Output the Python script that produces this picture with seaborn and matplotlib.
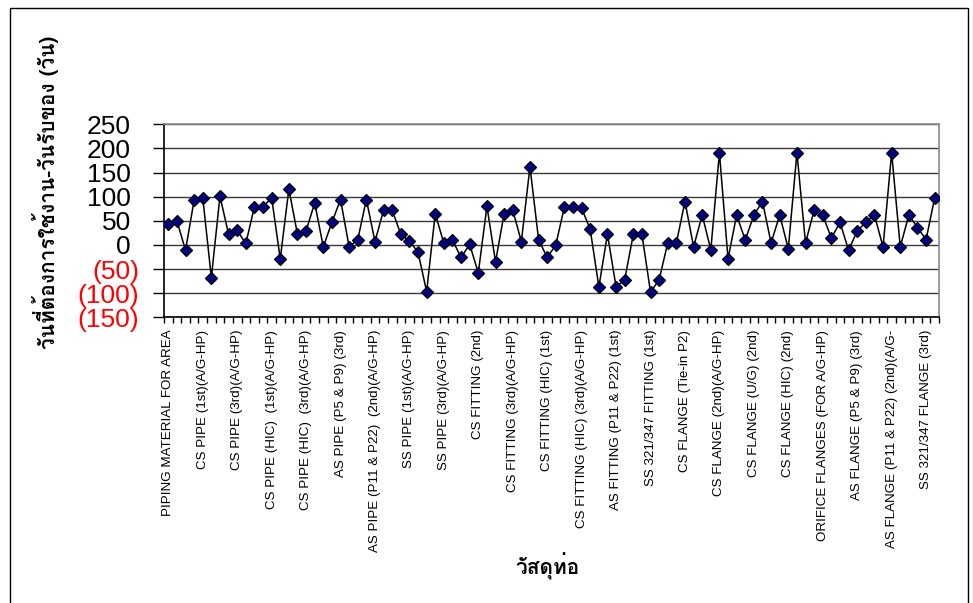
import numpy as np
import pandas as pd
import matplotlib
matplotlib.use("Agg")
import matplotlib.pyplot as plt
import matplotlib.patches as patches
import matplotlib.transforms as mtransforms
from matplotlib import font_manager as fm
from matplotlib.ft2font import FT2Font
from matplotlib.ticker import FuncFormatter
import seaborn as sns

# Days between required-use date and receipt date, one value per material line
values = [43, 50, -11, 93, 98, -68, 101, 22, 30, 3,
          79, 79, 98, -29, 116, 22, 29, 87, -4, 47,
          94, -4, 11, 94, 7, 72, 72, 22, 8, -15,
          -97, 65, 3, 10, -26, 1, -58, 80, -35, 65,
          72, 7, 162, 11, -26, 0, 79, 79, 76, 32,
          -87, 22, -87, -72, 22, 22, -98, -72, 4, 4,
          90, -4, 62, -10, 191, -29, 62, 10, 62, 90,
          4, 62, -8, 191, 4, 72, 62, 14, 47, -11,
          29, 47, 62, -4, 191, -4, 62, 36, 11, 98]

# Category names shown on the axis (every fourth line)
shown_labels = [
    "PIPING MATERIAL FOR AREA",
    "CS PIPE (1st)(A/G-HP)",
    "CS PIPE (3rd)(A/G-HP)",
    "CS PIPE (HIC)  (1st)(A/G-HP)",
    "CS PIPE (HIC)  (3rd)(A/G-HP)",
    "AS PIPE (P5 & P9) (3rd)",
    "AS PIPE (P11 & P22)  (2nd)(A/G-HP)",
    "SS PIPE (1st)(A/G-HP)",
    "SS PIPE (3rd)(A/G-HP)",
    "CS FITTING (2nd)",
    "CS FITTING (3rd)(A/G-HP)",
    "CS FITTING (HIC) (1st)",
    "CS FITTING (HIC) (3rd)(A/G-HP)",
    "AS FITTING (P11 & P22) (1st)",
    "SS 321/347 FITTING (1st)",
    "CS FLANGE (Tie-in P2)",
    "CS FLANGE (2nd)(A/G-HP)",
    "CS FLANGE (U/G) (2nd)",
    "CS FLANGE (HIC) (2nd)",
    "ORIFICE FLANGES (FOR A/G-HP)",
    "AS FLANGE (P5 & P9) (3rd)",
    "AS FLANGE (P11 & P22) (2nd)(A/G-",
    "SS 321/347 FLANGE (3rd)",
]
label_step = 4

y_ticks = [-150, -100, -50, 0, 50, 100, 150, 200, 250]

y_title = "วันที่ต้องการใช้งาน-วันรับของ (วัน)"
x_title = "วัสดุท่อ"


def thai_font(bold=True):
    """Pick an installed font that has Thai glyphs, preferring a bold face."""
    found = []
    for f in fm.fontManager.ttflist:
        try:
            cmap = FT2Font(f.fname).get_charmap()
        except Exception:
            continue
        if 0x0E27 in cmap and 0x0E31 in cmap:
            w = f.weight if isinstance(f.weight, int) else (700 if "bold" in str(f.weight).lower() else 400)
            found.append((w, f.fname))
    if not found:
        return fm.FontProperties(family="DejaVu Sans", weight="bold")
    target = 700 if bold else 400
    found.sort(key=lambda t: abs(t[0] - target))
    return fm.FontProperties(fname=found[0][1])


sns.set_theme(style="white")
plt.rcParams["font.family"] = ["Liberation Sans", "DejaVu Sans"]

df = pd.DataFrame({"idx": np.arange(len(values)), "days": values})

fig = plt.figure(figsize=(9.73, 6.03), dpi=100)
fig.patch.set_facecolor("white")
ax = fig.add_axes([164 / 973, 1 - 317.3 / 603, (939 - 164) / 973, (317.3 - 124.3) / 603])
ax.set_facecolor("white")

sns.lineplot(data=df, x="idx", y="days", ax=ax, color="black", linewidth=1.1,
             marker="D", markersize=6.0, markerfacecolor="#000080",
             markeredgecolor="black", markeredgewidth=0.9, zorder=3)

ax.set_xlim(-0.5, len(values) - 0.5)
ax.set_ylim(min(y_ticks), max(y_ticks))

# horizontal gridlines
ax.set_yticks(y_ticks)
ax.yaxis.grid(True, color="#3a3a3a", linewidth=1.0)
ax.xaxis.grid(False)
ax.set_axisbelow(True)


def acct(v, pos):
    return f"({abs(int(v))})" if v < 0 else f"{int(v)}"


ax.yaxis.set_major_formatter(FuncFormatter(acct))
ax.tick_params(axis="y", which="major", direction="out", length=8, width=1,
               color="black", labelcolor="black", labelsize=19, pad=10, left=True)
fig.canvas.draw()
shift = mtransforms.ScaledTranslation(-8 / 100, 0, fig.dpi_scale_trans)
for tick, v in zip(ax.yaxis.get_major_ticks(), y_ticks):
    if v < 0:
        tick.label1.set_color("red")
    else:
        tick.label1.set_transform(tick.label1.get_transform() + shift)

# category axis: labels every fourth line, tick marks between categories
ax.set_xticks(np.arange(0, len(values), label_step))
ax.set_xticklabels(shown_labels, rotation=90, fontsize=9.6, color="black")
ax.set_xticks(np.arange(-0.5, len(values), 1), minor=True)
ax.tick_params(axis="x", which="major", length=0, pad=9, bottom=True)
ax.tick_params(axis="x", which="minor", direction="out", length=4, width=1,
               color="black", bottom=True)

for side in ["left", "bottom"]:
    ax.spines[side].set_color("black")
    ax.spines[side].set_linewidth(1.2)
for side in ["top", "right"]:
    ax.spines[side].set_color("#8a8a8a")
    ax.spines[side].set_linewidth(1.2)

ax.set_xlabel("")
ax.set_ylabel("")

fp_title = thai_font(bold=True)
fp_title.set_size(15)
fig.text(46 / 973, 1 - 192 / 603, y_title, rotation=90, ha="center", va="center",
         fontproperties=fp_title, fontweight="bold", color="black")
fig.text(547 / 973, 1 - 566 / 603, x_title, ha="center", va="center",
         fontproperties=fp_title, fontweight="bold", color="black")

# outer frame of the chart area
frame = patches.Rectangle((10 / 973, -0.05), 958 / 973, 1.05 - 8 / 603,
                          transform=fig.transFigure, fill=False,
                          edgecolor="black", linewidth=1.0)
fig.patches.append(frame)

fig.savefig("out.png", dpi=100)
